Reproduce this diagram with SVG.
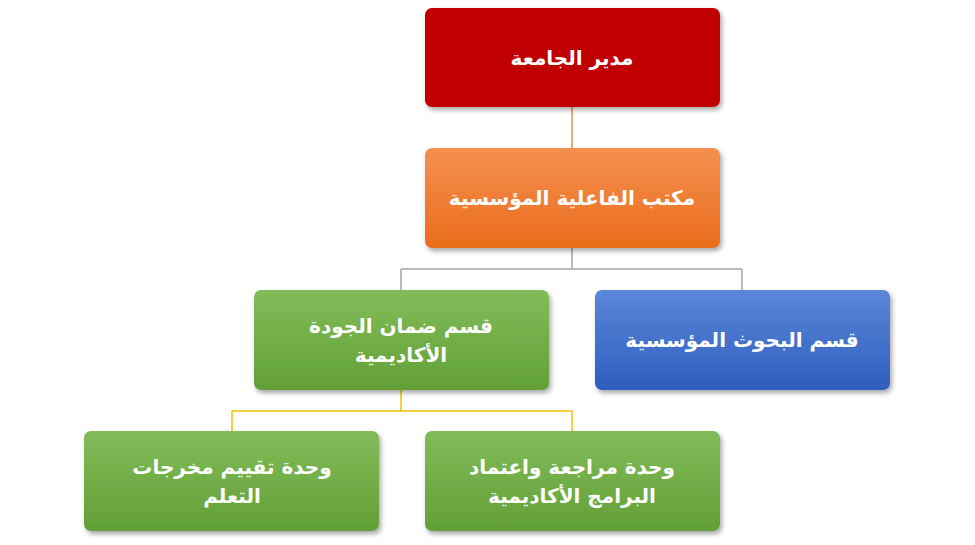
<svg xmlns="http://www.w3.org/2000/svg" width="975" height="545" viewBox="0 0 975 545">
<defs>
<filter id="sh" x="-10%" y="-10%" width="125%" height="130%"><feDropShadow dx="2" dy="3" stdDeviation="2.5" flood-color="#000" flood-opacity="0.35"/></filter>
<linearGradient id="gO" x1="0" y1="0" x2="0" y2="1"><stop offset="0" stop-color="#F4904F"/><stop offset="1" stop-color="#EA6C1C"/></linearGradient>
<linearGradient id="gG" x1="0" y1="0" x2="0" y2="1"><stop offset="0" stop-color="#82BC5A"/><stop offset="1" stop-color="#62A036"/></linearGradient>
<linearGradient id="gB" x1="0" y1="0" x2="0" y2="1"><stop offset="0" stop-color="#5B87D8"/><stop offset="1" stop-color="#2E5EBE"/></linearGradient>
</defs>
<style>
rect{filter:url(#sh)}
text{font-family:"DejaVu Sans",sans-serif;font-weight:bold;font-size:20px;fill:#fff;text-anchor:middle}
.c{fill:none;stroke-width:1.5}
</style>
<rect width="975" height="545" fill="#fff" style="filter:none"/>
<g id="connectors">
<path class="c" stroke="#F08A4B" d="M572,107V148"/>
<path class="c" stroke="#A5A5A5" d="M572,248V269M401,269H742M401,269V290M742,269V290"/>
<path class="c" stroke="#F5C000" d="M401,390V411M232,411H572M232,411V431M572,411V431"/>
</g>
<g id="n1"><rect x="425" y="8" width="295" height="99" rx="7" fill="#C00000"/><text x="572" y="65">مدير الجامعة</text></g>
<g id="n2"><rect x="425" y="148" width="295" height="100" rx="7" fill="url(#gO)"/><text x="572" y="205">مكتب الفاعلية المؤسسية</text></g>
<g id="n3"><rect x="254" y="290" width="295" height="100" rx="7" fill="url(#gG)"/><text x="401" y="333">قسم ضمان الجودة</text><text x="401" y="362">الأكاديمية</text></g>
<g id="n4"><rect x="595" y="290" width="295" height="100" rx="7" fill="url(#gB)"/><text x="742" y="347">قسم البحوث المؤسسية</text></g>
<g id="n5"><rect x="84" y="431" width="295" height="100" rx="7" fill="url(#gG)"/><text x="232" y="474">وحدة تقييم مخرجات</text><text x="232" y="503">التعلم</text></g>
<g id="n6"><rect x="425" y="431" width="295" height="100" rx="7" fill="url(#gG)"/><text x="572" y="474">وحدة مراجعة واعتماد</text><text x="572" y="503">البرامج الأكاديمية</text></g>
</svg>
